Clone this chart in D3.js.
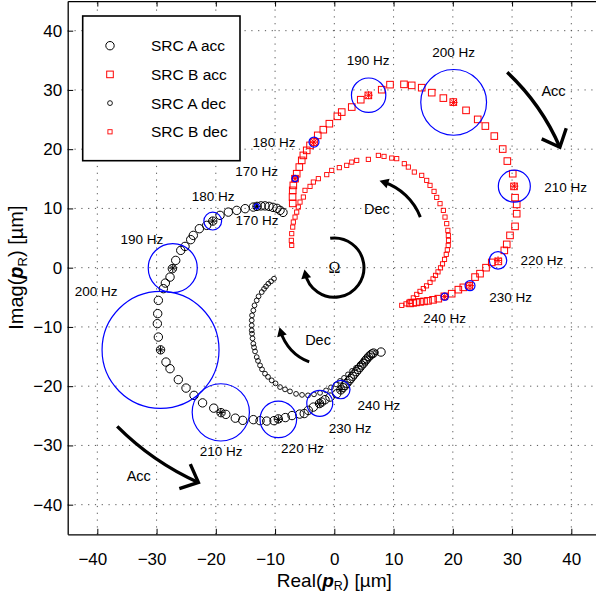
<!DOCTYPE html>
<html>
<head>
<meta charset="utf-8">
<script src="https://cdn.jsdelivr.net/npm/d3@7"></script>
<style>
  body { margin: 0; background: #fff; }
  text { font-family: "Liberation Sans", Arial, sans-serif; }
</style>
</head>
<body>
<div id="wrapper"></div>
<script>
// values, in µm  [real, imag]
const srcAAcc = [
  [-8.66,9.33],[-9.16,9.67],[-9.67,10.01],[-10.35,10.18],[-11.02,10.35],[-11.70,10.43],[-12.37,10.43],[-13.05,10.35],
  [-13.67,10.23],[-15.05,9.96],[-16.47,9.67],[-17.89,9.38],[-19.29,8.83],[-20.52,7.86],[-21.54,7.14],[-22.78,6.58],
  [-23.80,5.45],[-24.24,4.73],[-25.20,3.59],[-25.92,2.92],[-26.77,1.23],[-27.34,-0.17],[-27.73,-1.59],[-28.52,-2.60],
  [-28.86,-3.54],[-29.70,-5.52],[-29.81,-7.76],[-29.87,-9.45],[-29.70,-11.71],[-29.33,-13.87],[-28.41,-15.93],[-27.73,-17.05],
  [-26.33,-18.90],[-25.03,-20.32],[-23.68,-21.55],[-22.24,-22.82],[-20.35,-23.71],[-19.12,-24.47],[-18.31,-24.76],[-16.71,-25.40],
  [-15.46,-25.77],[-13.67,-25.65],[-12.54,-25.82],[-11.41,-25.89],[-10.18,-25.82],[-9.45,-25.52],[-8.27,-25.30],[-7.14,-24.96],
  [-5.84,-24.71],[-5.08,-24.62],[-4.39,-24.08],[-3.54,-23.53],[-2.50,-22.94],[-2.13,-22.68],[-1.57,-22.28],[-0.73,-21.84],
  [0.41,-21.27],[1.10,-20.62],[1.45,-20.25],[1.82,-19.88],[2.10,-19.52],[2.47,-19.08],[2.76,-18.72],[3.08,-18.33],
  [3.36,-17.97],[3.71,-17.56],[4.02,-17.18],[4.31,-16.83],[4.62,-16.44],[4.93,-16.12],[5.21,-15.73],[5.47,-15.42],
  [5.78,-15.06],[6.07,-14.78],[6.34,-14.56],[6.62,-14.41],[7.88,-14.24]
]
const srcBAcc = [
  [-7.02,10.85],[-7.05,11.92],[-7.02,13.05],[-6.92,13.89],[-6.63,15.02],[-6.35,15.86],[-5.91,16.98],[-5.50,18.11],
  [-5.23,18.95],[-4.66,19.80],[-4.10,20.64],[-3.43,21.20],[-2.80,22.33],[-1.86,23.29],[-0.84,24.30],[0.51,25.54],
  [1.25,26.26],[2.94,27.11],[4.46,28.35],[5.74,29.08],[8.00,30.04],[9.40,30.89],[11.76,30.94],[13.06,30.77],
  [14.75,30.38],[16.44,29.54],[18.40,28.62],[20.08,27.95],[22.23,26.55],[24.20,25.03],[25.49,23.90],[27.00,22.21],
  [28.42,20.02],[29.20,17.99],[30.11,15.86],[30.33,13.72],[30.50,11.81],[30.78,10.68],[30.78,9.11],[30.50,6.97],
  [29.65,5.45],[29.10,3.93],[28.69,2.92],[27.68,1.06],[26.57,0.89],[25.60,0.00],[24.59,-1.01],[23.75,-1.59],
  [22.78,-3.04],[21.77,-3.32],[20.93,-3.71],[19.81,-4.39],[18.57,-4.84],[17.55,-5.23],[16.66,-5.43],[15.81,-5.60],
  [15.14,-5.69],[14.46,-5.77],[13.79,-5.86],[13.28,-5.94],[12.78,-6.03]
]
const srcADec = [
  [7.04,-14.30],[6.36,-14.80],[5.69,-15.31],[5.01,-15.81],[4.34,-16.32],[3.66,-16.91],[2.99,-17.42],[2.31,-18.01],
  [1.64,-18.60],[0.96,-19.11],[0.29,-19.70],[-0.56,-20.20],[-1.40,-20.71],[-2.41,-21.13],[-3.43,-21.38],[-4.44,-21.55],
  [-5.45,-21.47],[-6.46,-21.30],[-7.48,-20.88],[-8.32,-20.54],[-9.16,-20.15],[-9.92,-19.53],[-10.57,-19.02],[-11.19,-18.43],
  [-11.70,-17.89],[-12.20,-17.16],[-12.54,-16.49],[-12.88,-15.73],[-13.10,-15.09],[-13.38,-14.13],[-13.55,-13.45],[-13.67,-12.83],
  [-13.81,-11.93],[-13.89,-11.14],[-13.94,-10.58],[-13.94,-9.74],[-13.94,-8.89],[-13.89,-8.05],[-13.67,-7.21],[-13.47,-6.36],
  [-13.10,-5.52],[-12.79,-4.84],[-12.25,-4.12],[-11.86,-3.58],[-11.53,-3.16],[-11.14,-2.70],[-10.68,-2.31],[-10.18,-1.86]
]
const srcBDec = [
  [11.38,-6.36],[12.10,-6.11],[12.78,-5.69],[13.33,-5.10],[13.91,-4.51],[14.46,-4.00],[15.02,-3.54],[15.56,-3.07],
  [16.15,-2.48],[16.66,-1.89],[17.08,-1.30],[17.50,-0.71],[17.92,-0.03],[18.26,0.64],[18.60,1.40],[18.89,2.24],
  [19.07,3.00],[19.22,3.76],[19.27,4.61],[19.24,5.45],[19.16,6.30],[18.97,7.43],[18.68,8.54],[18.40,9.67],
  [17.84,10.80],[17.28,11.86],[16.83,12.88],[16.15,13.89],[15.59,14.73],[14.75,15.58],[13.50,16.14],[12.49,16.98],
  [11.81,17.55],[10.53,18.40],[9.69,18.50],[8.39,18.78],[7.43,18.95],[5.74,18.28],[3.78,18.11],[2.94,17.82],
  [2.09,17.27],[0.84,16.88],[-0.44,16.42],[-1.28,15.70],[-2.70,15.02],[-3.54,14.45],[-4.10,13.72],[-4.95,13.05],
  [-5.23,11.92],[-5.79,11.07],[-6.08,10.23],[-6.35,9.38],[-6.63,8.54],[-6.92,7.70],[-7.02,6.85],[-7.19,5.74],
  [-7.26,4.61],[-7.19,3.76]
]

const freqs = [170, 180, 190, 200, 210, 220, 230, 240]
// point at each frequency and radius of its spread circle
const srcAMarks = [[-13.10,10.35,0.42],[-20.52,7.86,1.50],[-27.27,-0.07,4.14],[-29.33,-13.87,9.87],
  [-19.16,-24.42,4.83],[-9.45,-25.60,3.09],[-2.46,-22.90,2.19],[1.10,-20.57,1.55]]
const srcBMarks = [[-6.63,15.02,0.50],[-3.43,21.20,0.84],[5.79,29.11,2.90],[20.14,27.90,5.55],
  [30.38,13.76,2.70],[27.63,1.23,1.47],[22.90,-3.04,0.84],[18.63,-4.89,0.61]]
// where the frequency labels sit
const srcALabelAt = [[-13.05,7.98],[-20.47,12.03],[-32.46,4.78],[-40.22,-4.0],
  [-19.12,-31.0],[-5.37,-30.5],[2.65,-27.12],[7.54,-23.24]]
const srcBLabelAt = [[-13.13,16.25],[-10.18,21.15],[5.69,35.0],[20.12,36.42],
  [39.02,13.55],[35.05,1.23],[29.74,-4.93],[18.6,-8.47]]

const ticks = [-40, -30, -20, -10, 0, 10, 20, 30, 40]
const legendLabels = ["SRC A acc", "SRC B acc", "SRC A dec", "SRC B dec"]

// direction arrows (arcs): centre, radius, start/end angle in degrees
const arrows = [
  {cx: 3.1, cy: 5.2, r: 38.1, from: 46.8, to: 23.4, head: "open", text: "Acc", tx: 37.0, ty: 29.9},
  {cx: -4.13, cy: 5.62, r: 45.9, from: 224.9, to: 245.8, head: "open", text: "Acc", tx: -33.0, ty: -35.2},
  {cx: 5.18, cy: 4.95, r: 10, from: 21, to: 72, head: "solid", text: "Dec", tx: 7.2, ty: 9.9},
  {cx: -1.57, cy: -8.56, r: 7.8, from: 250, to: 196, head: "solid", text: "Dec", tx: -2.75, ty: -12.1},
  {cx: 0, cy: 0, r: 5, from: 98, to: -169, head: "solid", text: "", tx: 0, ty: 0},
]

function drawChart() {
  const dimensions = {width: 596, height: 592, left: 67.7, right: 600.95, top: 1.05, bottom: 534.3}

  const x = d3.scaleLinear().domain([-45, 45]).range([dimensions.left, dimensions.right])
  const y = d3.scaleLinear().domain([-45, 45]).range([dimensions.bottom, dimensions.top])
  const k = x(1) - x(0)

  const svg = d3.select("#wrapper").append("svg")
    .attr("width", dimensions.width)
    .attr("height", dimensions.height)

  // dotted grid
  const grid = svg.append("g")
    .attr("stroke", "#555")
    .attr("stroke-width", 1)
    .attr("stroke-dasharray", "1.2,5.6")
  grid.selectAll(".vgrid").data(ticks).join("line")
    .attr("x1", d => x(d)).attr("x2", d => x(d))
    .attr("y1", y(-45)).attr("y2", y(45))
  grid.selectAll(".hgrid").data(ticks).join("line")
    .attr("y1", d => y(d)).attr("y2", d => y(d))
    .attr("x1", x(-45)).attr("x2", x(45))

  // axes
  const styleAxis = g => {
    g.attr("font-family", null).attr("font-size", null)
    g.select(".domain").attr("stroke-width", 1.3)
    g.selectAll(".tick line").attr("stroke-width", 1)
    g.selectAll("text").style("font-size", "17px").attr("fill", "#000")
  }
  const xAxis = svg.append("g")
    .attr("transform", `translate(0,${dimensions.bottom})`)
    .call(d3.axisBottom(x).tickValues(ticks).tickSizeInner(-5.5).tickSizeOuter(0).tickPadding(19)
      .tickFormat(d => Math.abs(d)))
    .call(styleAxis)
  xAxis.selectAll(".tick").each(function(d) {
    if (d >= 0) return
    const t = d3.select(this).select("text")
    const w = t.node().getComputedTextLength()
    d3.select(this).append("text")
      .attr("x", -w / 2).attr("y", t.attr("y")).attr("dy", t.attr("dy"))
      .attr("text-anchor", "end").attr("fill", "#000")
      .style("font-size", "17px")
      .text("\u2212")
  })
  svg.append("g")
    .attr("transform", `translate(0,${dimensions.top})`)
    .call(d3.axisTop(x).tickValues(ticks).tickSizeInner(-5.5).tickSizeOuter(0).tickFormat(""))
    .call(styleAxis)
  svg.append("g")
    .attr("transform", `translate(${dimensions.left},0)`)
    .call(d3.axisLeft(y).tickValues(ticks).tickSizeInner(-5.5).tickSizeOuter(0).tickPadding(5.5)
      .tickFormat(d => d < 0 ? "\u2212" + Math.abs(d) : d))
    .call(styleAxis)

  // axis titles
  const xLabel = svg.append("text")
    .attr("x", x(0)).attr("y", 587)
    .attr("text-anchor", "middle")
    .style("font-size", "19px")
  xLabel.append("tspan").text("Real(")
  xLabel.append("tspan").text("p").style("font-weight", "bold").style("font-style", "italic")
  xLabel.append("tspan").text("R").attr("dy", 2.5).style("font-size", "12.5px")
  xLabel.append("tspan").text(") [µm]").attr("dy", -2.5)

  const yLabel = svg.append("text")
    .attr("transform", `translate(23,${y(0)}) rotate(-90)`)
    .attr("text-anchor", "middle")
    .style("font-size", "20px")
  yLabel.append("tspan").text("Imag(")
  yLabel.append("tspan").text("p").style("font-weight", "bold").style("font-style", "italic")
  yLabel.append("tspan").text("R").attr("dy", 4).style("font-size", "13px")
  yLabel.append("tspan").text(") [µm]").attr("dy", -4)

  const bounds = svg.append("g")

  const drawCircles = (data, r, sw) => bounds.append("g")
    .selectAll("circle").data(data).join("circle")
      .attr("cx", d => x(d[0])).attr("cy", d => y(d[1]))
      .attr("r", r)
      .attr("fill", "none").attr("stroke", "#000").attr("stroke-width", sw)
  const drawSquares = (data, s, sw) => bounds.append("g")
    .selectAll("rect").data(data).join("rect")
      .attr("x", d => x(d[0]) - s / 2).attr("y", d => y(d[1]) - s / 2)
      .attr("width", s).attr("height", s)
      .attr("fill", "none").attr("stroke", "#ff0000").attr("stroke-width", sw)

  drawCircles(srcAAcc, 4.2, 1)
  drawSquares(srcBAcc, 6.6, 1)
  drawCircles(srcADec, 2.4, 0.9)
  drawSquares(srcBDec, 4.2, 0.9)

  // stars and spread circles at each frequency
  const star = "M-4,0H4M0,-4V4M-2.9,-2.9L2.9,2.9M-2.9,2.9L2.9,-2.9"
  const drawMarks = (marks, color) => {
    const g = bounds.append("g")
    g.selectAll("path").data(marks).join("path")
      .attr("transform", d => `translate(${x(d[0])},${y(d[1])})`)
      .attr("d", star)
      .attr("stroke", color).attr("stroke-width", 1).attr("fill", "none")
    g.selectAll("circle").data(marks).join("circle")
      .attr("cx", d => x(d[0])).attr("cy", d => y(d[1]))
      .attr("r", d => d[2] * k)
      .attr("fill", "none").attr("stroke", "#0000ff").attr("stroke-width", 1.2)
  }
  drawMarks(srcAMarks, "#000")
  drawMarks(srcBMarks, "#ff0000")

  const drawFreqLabels = at => bounds.append("g")
    .selectAll("text").data(at).join("text")
      .attr("x", d => x(d[0])).attr("y", d => y(d[1]) + 4.8)
      .attr("text-anchor", "middle")
      .style("font-size", "13.5px")
      .text((d, i) => `${freqs[i]} Hz`)
  drawFreqLabels(srcALabelAt)
  drawFreqLabels(srcBLabelAt)

  // direction arrows
  const rad = a => a * Math.PI / 180
  arrows.forEach(a => {
    const p0 = [x(a.cx + a.r * Math.cos(rad(a.from))), y(a.cy + a.r * Math.sin(rad(a.from)))]
    const p1 = [x(a.cx + a.r * Math.cos(rad(a.to))), y(a.cy + a.r * Math.sin(rad(a.to)))]
    const ccw = a.to > a.from
    const large = Math.abs(a.to - a.from) > 180 ? 1 : 0
    const rp = a.r * k
    const sw = a.head === "open" ? 3.4 : 3
    bounds.append("path")
      .attr("d", `M${p0}A${rp},${rp} 0 ${large} ${ccw ? 0 : 1} ${p1}`)
      .attr("fill", "none").attr("stroke", "#000").attr("stroke-width", sw)
    const th = rad(a.to)
    let t = ccw ? [-Math.sin(th), Math.cos(th)] : [Math.sin(th), -Math.cos(th)]
    t = [t[0], -t[1]] // screen direction
    const b = [-t[0], -t[1]]
    const rot = (v, ang) => [v[0] * Math.cos(ang) - v[1] * Math.sin(ang), v[0] * Math.sin(ang) + v[1] * Math.cos(ang)]
    if (a.head === "open") {
      const L = 20
      const l1 = rot(b, rad(42)), l2 = rot(b, rad(-42))
      bounds.append("path")
        .attr("d", `M${p1[0] + L * l1[0]},${p1[1] + L * l1[1]}L${p1}L${p1[0] + L * l2[0]},${p1[1] + L * l2[1]}`)
        .attr("fill", "none").attr("stroke", "#000").attr("stroke-width", sw)
        .attr("stroke-linejoin", "miter")
    } else {
      const n = [-t[1], t[0]]
      const tip = [p1[0] + 4 * t[0], p1[1] + 4 * t[1]]
      const bc = [p1[0] - 5 * t[0], p1[1] - 5 * t[1]]
      bounds.append("path")
        .attr("d", `M${tip}L${bc[0] + 5 * n[0]},${bc[1] + 5 * n[1]}L${bc[0] - 5 * n[0]},${bc[1] - 5 * n[1]}Z`)
        .attr("fill", "#000")
    }
    if (a.text) {
      bounds.append("text")
        .attr("x", x(a.tx)).attr("y", y(a.ty) + 5.2)
        .attr("text-anchor", "middle")
        .style("font-size", "14.5px")
        .text(a.text)
    }
  })
  bounds.append("text")
    .attr("x", x(0)).attr("y", y(0) + 5.5)
    .attr("text-anchor", "middle")
    .style("font-family", "'Liberation Serif', 'DejaVu Serif', serif")
    .style("font-size", "16px")
    .text("\u03a9")

  // legend
  const legend = svg.append("g")
  legend.append("rect")
    .attr("x", 82.7).attr("y", 16).attr("width", 157.3).attr("height", 144.7)
    .attr("fill", "#fff").attr("stroke", "#000").attr("stroke-width", 1.6)
  const rows = legend.selectAll(".row").data(legendLabels).join("g")
    .attr("transform", (d, i) => `translate(110,${45.7 + i * 28.7})`)
  rows.each(function(d, i) {
    const g = d3.select(this)
    if (i % 2 === 0) {
      g.append("circle").attr("r", i === 0 ? 4.2 : 2.4)
        .attr("fill", "none").attr("stroke", "#000").attr("stroke-width", i === 0 ? 1 : 0.9)
    } else {
      const s = i === 1 ? 6.6 : 4.2
      g.append("rect").attr("x", -s / 2).attr("y", -s / 2).attr("width", s).attr("height", s)
        .attr("fill", "none").attr("stroke", "#ff0000").attr("stroke-width", i === 1 ? 1 : 0.9)
    }
    g.append("text").attr("x", 41).attr("y", 5.6)
      .style("font-size", "15.5px")
      .text(d)
  })
}
drawChart()
</script>
</body>
</html>
